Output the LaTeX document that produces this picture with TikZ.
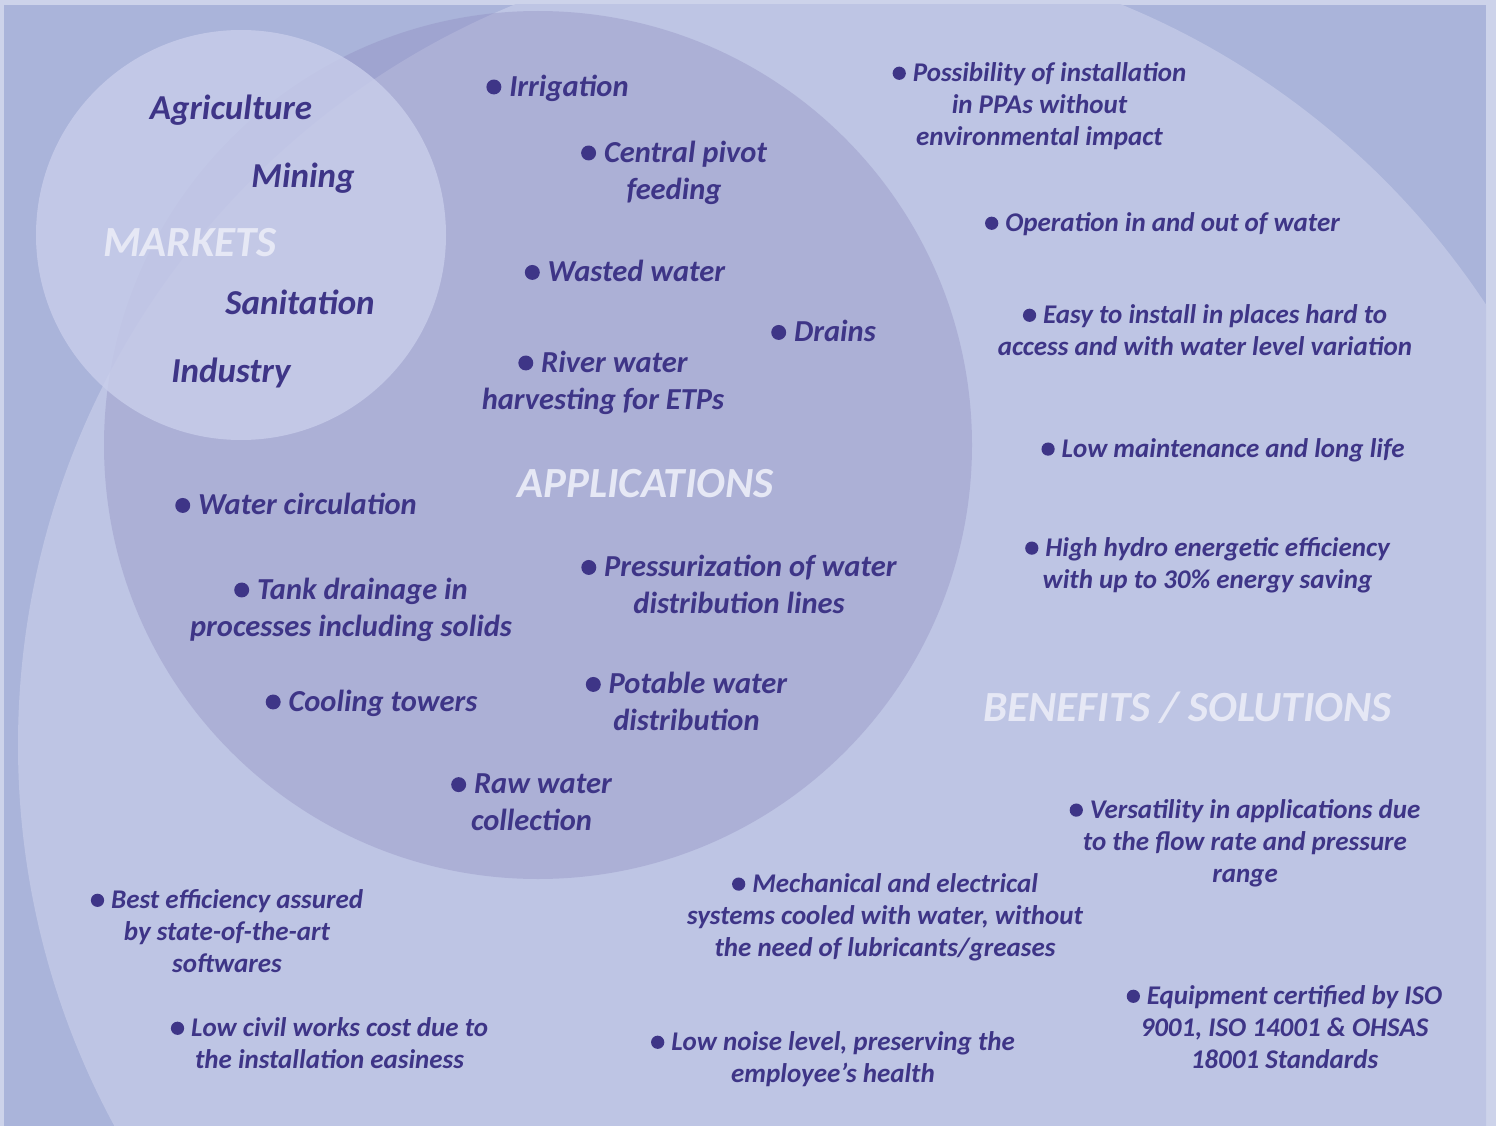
\documentclass[tikz,border=0pt]{standalone}
\usepackage{fontspec}
\setmainfont{Carlito}
\definecolor{framec}{RGB}{205,211,234}
\definecolor{bgc}{RGB}{170,180,218}
\definecolor{lightc}{RGB}{190,197,228}
\definecolor{appc}{RGB}{141,137,190}
\definecolor{mktc}{RGB}{201,206,235}
\definecolor{tc}{RGB}{62,53,135}
\definecolor{hc}{RGB}{230,232,245}
\newcommand\bul{\tikz[baseline=-0.3em]\fill[tc] (0,0) circle (0.245em);\hspace{0.26em}}
\tikzset{
  tx/.style={text=tc, align=center, inner sep=0pt, yshift=-2pt, font=\bfseries\itshape\fontsize{27}{32}\selectfont},
  ap/.style={tx, font=\bfseries\itshape\fontsize{30.5}{37}\selectfont},
  mk/.style={tx, font=\bfseries\itshape\fontsize{35}{37}\selectfont},
  hd/.style={text=hc, align=center, inner sep=0pt, yshift=-2pt, font=\bfseries\itshape\fontsize{43}{44}\selectfont}
}
\begin{document}
\begin{tikzpicture}[x=1pt,y=-1pt]
\useasboundingbox (0,0) rectangle (1496,1126);
\fill[framec] (0,0) rectangle (1496,1126);
\begin{scope}
  \clip (4,5) rectangle (1486,1126);
  \fill[bgc] (4,5) rectangle (1486,1126);
  \fill[lightc] (818,745) circle (800);
  \fill[appc, fill opacity=0.35] (538,445) circle (434);
  \fill[mktc, fill opacity=0.8] (241,235) circle (205);
\end{scope}
% markets
\node[mk] (agr) at (231,108) {Agriculture};
\node[mk] (min) at (303,176) {Mining};
\node[hd] (mkt) at (190,241) {MARKETS};
\node[mk] (san) at (300,300) {Sanitation};
\node[mk] (ind) at (231,371) {Industry};
% applications
\node[ap] (irr) at (557.5,86) {\bul Irrigation};
\node[ap] (cpf) at (674,170.5) {\bul Central pivot\\ feeding};
\node[ap] (was) at (625,269) {\bul Wasted water};
\node[ap] (dra) at (823.5,329) {\bul Drains};
\node[ap] (riv) at (603,380.5) {\bul River water\\ harvesting for ETPs};
\node[hd] (app) at (645.5,482) {APPLICATIONS};
\node[ap] (wci) at (296,502) {\bul Water circulation};
\node[ap] (pre) at (739,582.5) {\bul Pressurization of water\\ distribution lines};
\node[ap] (tan) at (351,607.5) {\bul Tank drainage in\\ processes including solids};
\node[ap] (coo) at (371.5,701) {\bul Cooling towers};
\node[ap] (pot) at (686.5,699.5) {\bul Potable water\\ distribution};
\node[ap] (raw) at (531.5,800.5) {\bul Raw water\\ collection};
% benefits
\node[tx] (pos) at (1039.5,104) {\bul Possibility of installation\\ in PPAs without\\ environmental impact};
\node[tx] (ope) at (1162.5,222) {\bul Operation in and out of water};
\node[tx] (eas) at (1205,328) {\bul Easy to install in places hard to\\ access and with water level variation};
\node[tx] (low) at (1223,448) {\bul Low maintenance and long life};
\node[tx] (hig) at (1207.5,563) {\bul High hydro energetic efficiency\\ with up to 30\% energy saving};
\node[hd] (ben) at (1187.5,706) {BENEFITS / SOLUTIONS};
\node[tx] (ver) at (1245,841) {\bul Versatility in applications due\\ to the flow rate and pressure\\ range};
\node[tx] (mec) at (885,915) {\bul Mechanical and electrical\\ systems cooled with water, without\\ the need of lubricants/greases};
\node[tx] (bes) at (227,929) {\bul Best efficiency assured\\ by state-of-the-art\\ softwares};
\node[tx] (equ) at (1284.5,1025) {\bul Equipment certified by ISO\\ 9001, ISO 14001 \& OHSAS\\ 18001 Standards};
\node[tx] (civ) at (329.5,1041) {\bul Low civil works cost due to\\ the installation easiness};
\node[tx] (noi) at (833,1057) {\bul Low noise level, preserving the\\ employee’s health};
\end{tikzpicture}
\end{document}
